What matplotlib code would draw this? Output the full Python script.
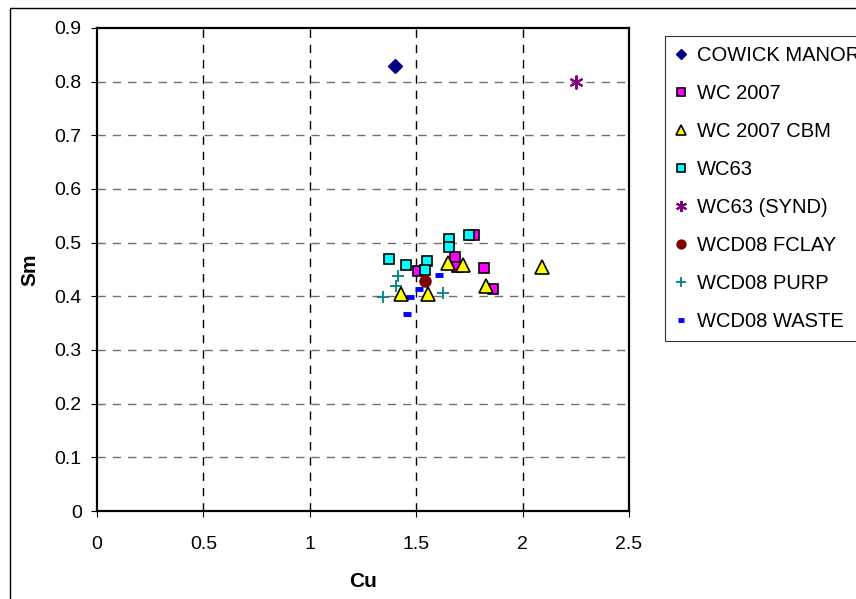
import matplotlib
matplotlib.use("Agg")
import matplotlib.pyplot as plt
from matplotlib.patches import Rectangle

plt.rcParams['font.family'] = ['Liberation Sans', 'DejaVu Sans']

# Data (Cu, Sm)
cowick_cu = [1.40]
cowick_sm = [0.83]

wc2007_cu = [1.51, 1.77, 1.68, 1.69, 1.82, 1.86]
wc2007_sm = [0.447, 0.514, 0.473, 0.455, 0.453, 0.413]

wc2007cbm_cu = [1.43, 1.555, 1.65, 1.72, 1.83, 2.09]
wc2007cbm_sm = [0.405, 0.405, 0.462, 0.458, 0.420, 0.455]

wc63_cu = [1.37, 1.45, 1.55, 1.54, 1.655, 1.655, 1.75]
wc63_sm = [0.469, 0.458, 0.465, 0.450, 0.507, 0.491, 0.514]

wc63synd_cu = [2.25]
wc63synd_sm = [0.80]

fclay_cu = [1.543]
fclay_sm = [0.428]

purp_cu = [1.345, 1.404, 1.413, 1.625]
purp_sm = [0.399, 0.420, 0.438, 0.407]

waste_cu = [1.606, 1.511, 1.472, 1.456]
waste_sm = [0.440, 0.413, 0.398, 0.368]

x_ticks = [0, 0.5, 1, 1.5, 2, 2.5]
x_labels = ['0', '0.5', '1', '1.5', '2', '2.5']
y_ticks = [0, 0.1, 0.2, 0.3, 0.4, 0.5, 0.6, 0.7, 0.8, 0.9]
y_labels = ['0', '0.1', '0.2', '0.3', '0.4', '0.5', '0.6', '0.7', '0.8', '0.9']

fig = plt.figure(figsize=(8.56, 5.99), dpi=100)
fig.patches.append(Rectangle((10/856, -0.1), 1.2, 1 - 8/599 + 0.1,
                             transform=fig.transFigure, fill=False,
                             edgecolor='black', linewidth=1.0, zorder=0))
ax = fig.add_axes([97/856, 1 - 511/599, (629 - 97)/856, (511 - 28)/599])

ax.plot(cowick_cu, cowick_sm, linestyle='none', marker='D', ms=7,
        color='#000080', mec='#000080', label='COWICK MANOR', zorder=3)
ax.plot(wc2007_cu, wc2007_sm, linestyle='none', marker='s', ms=7.5,
        mfc='#ff00ff', mec='black', mew=1.2, label='WC 2007', zorder=3)
ax.plot(wc2007cbm_cu, wc2007cbm_sm, linestyle='none', marker='^', ms=9.5,
        mfc='#ffff00', mec='black', mew=1.2, label='WC 2007 CBM', zorder=4)
ax.plot(wc63_cu, wc63_sm, linestyle='none', marker='s', ms=7.5,
        mfc='#00ffff', mec='black', mew=1.2, label='WC63', zorder=3)
ax.plot(wc63synd_cu, wc63synd_sm, linestyle='none', marker=(6, 2, 0), ms=10,
        color='#800080', mec='#800080', mew=1.5, label='WC63 (SYND)', zorder=3)
ax.plot(fclay_cu, fclay_sm, linestyle='none', marker='o', ms=8,
        color='#800000', mec='#800000', label='WCD08 FCLAY', zorder=3)
ax.plot(purp_cu, purp_sm, linestyle='none', marker='+', ms=9,
        color='#008080', mec='#008080', mew=1.3, label='WCD08 PURP', zorder=3)
ax.plot(waste_cu, waste_sm, linestyle='none', marker='_', ms=6,
        color='#0000ff', mec='#0000ff', mew=3.5, label='WCD08 WASTE', zorder=3)

ax.set_xlim(0, 2.5)
ax.set_ylim(0, 0.9)
ax.set_xticks(x_ticks)
ax.set_xticklabels(x_labels)
ax.set_yticks(y_ticks)
ax.set_yticklabels(y_labels)
ax.tick_params(direction='out', length=4, width=0.8, labelsize=14)
ax.tick_params(axis='x', pad=14)
ax.tick_params(axis='y', pad=7)

for v in x_ticks[1:-1]:
    ax.axvline(v, color='black', linestyle=(0, (6, 5)), linewidth=1.0, zorder=1)
for v in y_ticks[1:-1]:
    ax.axhline(v, color='#707070', linestyle=(0, (6, 5)), linewidth=1.0, zorder=1)

for s in ax.spines.values():
    s.set_linewidth(1.6)
    s.set_color('black')

ax.set_xlabel('Cu', fontsize=15, fontweight='bold', labelpad=14)
ax.set_ylabel('Sm', fontsize=15, fontweight='bold', labelpad=11)

leg = fig.legend(loc='upper left', bbox_to_anchor=(665/856, 1 - 36/599),
                 frameon=True, fancybox=False, fontsize=14.5,
                 labelspacing=0.94, handlelength=0.6, handletextpad=0.5,
                 borderpad=0.5, borderaxespad=0, markerscale=0.8)
leg.get_frame().set_edgecolor('black')
leg.get_frame().set_linewidth(0.8)

fig.savefig('out.png', dpi=100)
